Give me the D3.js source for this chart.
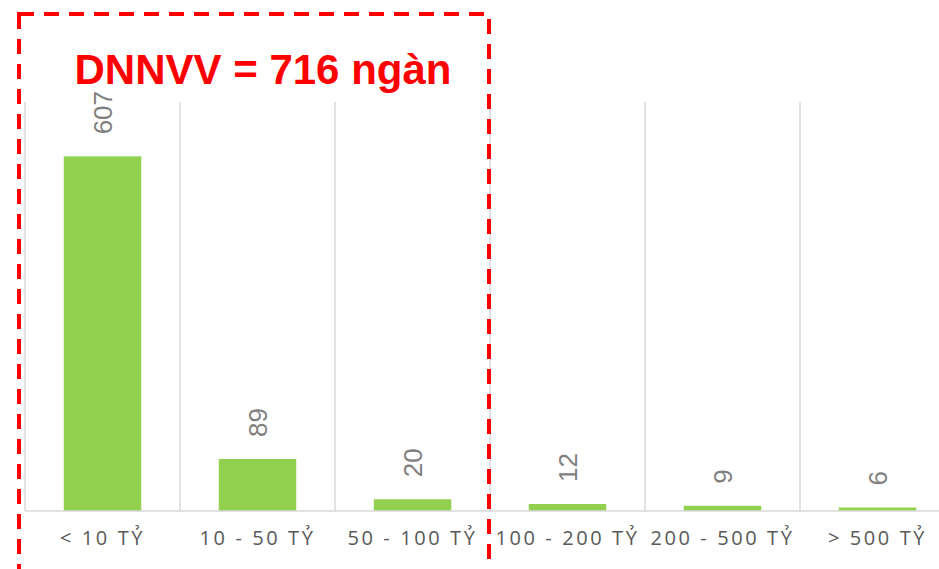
<!DOCTYPE html>
<html>
<head>
<meta charset="utf-8">
<script src="https://cdn.jsdelivr.net/npm/d3@7"></script>
<style>
  body { margin: 0; background: #fff; }
  svg { display: block; }
</style>
</head>
<body>
<div id="chart"></div>
<script>
// data
const categories = ["< 10 TỶ", "10 - 50 TỶ", "50 - 100 TỶ", "100 - 200 TỶ", "200 - 500 TỶ", "> 500 TỶ"];
const values = [607, 89, 20, 12, 9, 6];
const titleText = "DNNVV = 716 ngàn";

const width = 939, height = 569;
const margin = {top: 102, left: 25, bottom: 58};
const bandW = 155;

let svg = d3.select("#chart").append("svg")
    .attr("width", width)
    .attr("height", height);

let x = d3.scaleBand()
    .domain(categories)
    .range([margin.left, margin.left + bandW * categories.length])
    .paddingInner(0.5)
    .paddingOuter(0.25);

let y = d3.scaleLinear()
    .domain([0, 700])
    .range([height - margin.bottom, margin.top]);

// vertical separators between categories
let edges = categories.map((c, i) => margin.left + i * bandW);
svg.selectAll(".sep")
    .data(edges)
    .enter().append("line")
    .attr("class", "sep")
    .attr("x1", d => d).attr("x2", d => d)
    .attr("y1", y(700)).attr("y2", y(0))
    .attr("stroke", "#d9d9d9")
    .attr("stroke-width", 1.5);

// bars
svg.selectAll(".bar")
    .data(values)
    .enter().append("rect")
    .attr("class", "bar")
    .attr("x", (d, i) => x(categories[i]))
    .attr("width", x.bandwidth())
    .attr("y", d => y(d))
    .attr("height", d => y(0) - y(d))
    .attr("fill", "#92d050");

// baseline
svg.append("line")
    .attr("x1", margin.left).attr("x2", width)
    .attr("y1", y(0)).attr("y2", y(0))
    .attr("stroke", "#d9d9d9")
    .attr("stroke-width", 1.5);

// rotated value labels
svg.selectAll(".val")
    .data(values)
    .enter().append("text")
    .attr("class", "val")
    .attr("transform", (d, i) => `translate(${x(categories[i]) + x.bandwidth() / 2}, ${y(d) - 22}) rotate(-90)`)
    .attr("dominant-baseline", "central")
    .attr("font-family", "'Liberation Sans Narrow', 'Arial Narrow', sans-serif")
    .attr("font-size", "26px")
    .attr("fill", "#808080")
    .text(d => d);

// category labels
svg.selectAll(".cat")
    .data(categories)
    .enter().append("text")
    .attr("class", "cat")
    .attr("x", d => x(d) + x.bandwidth() / 2)
    .attr("y", 545)
    .attr("text-anchor", "middle")
    .attr("font-family", "'Open Sans', sans-serif")
    .attr("font-size", "20px")
    .attr("letter-spacing", "2.6px")
    .attr("fill", "#595959")
    .text(d => d);

// dashed red highlight box
svg.append("rect")
    .attr("x", 19)
    .attr("y", 14)
    .attr("width", 470)
    .attr("height", 600)
    .attr("fill", "none")
    .attr("stroke", "#ff0000")
    .attr("stroke-width", 4)
    .attr("stroke-dasharray", "15,10");

// title
svg.append("text")
    .attr("x", 263)
    .attr("y", 84)
    .attr("text-anchor", "middle")
    .attr("font-family", "'Liberation Sans', Arial, sans-serif")
    .attr("font-weight", "bold")
    .attr("font-size", "42px")
    .attr("fill", "#ff0000")
    .text(titleText);
</script>
</body>
</html>
